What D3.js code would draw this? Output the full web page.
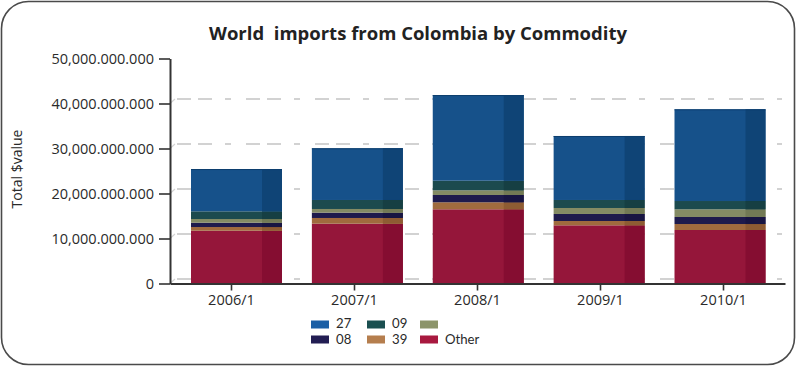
<!DOCTYPE html>
<html>
<head>
<meta charset="utf-8">
<script src="https://cdn.jsdelivr.net/npm/d3@7"></script>
<style>
  html, body { margin: 0; padding: 0; background: #fff; }
  svg { display: block; font-family: "Open Sans", "Noto Sans", sans-serif; }
</style>
</head>
<body>
<svg id="chart" width="796" height="366"></svg>
<script>
// Periods on the x axis
const periods = ["2006/1", "2007/1", "2008/1", "2009/1", "2010/1"];

// Import values per commodity (US$), one array per HS code
const hs27    = [9.40e9, 11.49e9, 19.04e9, 14.22e9, 20.38e9];
const hs09    = [1.71e9, 2.00e9, 2.13e9, 1.78e9, 1.84e9];
const hsBlank = [0.82e9, 0.82e9, 1.04e9, 1.33e9, 1.71e9];
const hs08    = [0.96e9, 1.18e9, 1.62e9, 1.56e9, 1.56e9];
const hs39    = [0.82e9, 1.27e9, 1.56e9, 0.96e9, 1.33e9];
const hsOther = [11.73e9, 13.29e9, 16.49e9, 12.93e9, 11.89e9];

// Y axis ticks
const yTicks = [0, 10e9, 20e9, 30e9, 40e9, 50e9];
const gridTicks = [0, 10e9, 20e9, 30e9, 40e9];

// Series, bottom of the stack first
const series = [
  { id: "other", label: "Other", values: hsOther, face: "#95163A", side: "#850D31", swatch: "#A8193F" },
  { id: "c39",   label: "39",    values: hs39,    face: "#A06B3E", side: "#8E5C33", swatch: "#B57E4E" },
  { id: "c08",   label: "08",    values: hs08,    face: "#1E1A4C", side: "#181542", swatch: "#221D53" },
  { id: "blank", label: "",      values: hsBlank, face: "#848B64", side: "#737A55", swatch: "#8C946A" },
  { id: "c09",   label: "09",    values: hs09,    face: "#1C4A4E", side: "#163F43", swatch: "#1A4F50" },
  { id: "c27",   label: "27",    values: hs27,    face: "#16518A", side: "#0F4476", swatch: "#1B5FA5" }
];
// Legend reading order
const legendOrder = ["c27", "c09", "blank", "c08", "c39", "other"];

const svg = d3.select("#chart");

// Outer frame with rounded corners
svg.append("rect")
  .attr("x", 1.5).attr("y", 1.5)
  .attr("width", 793).attr("height", 363)
  .attr("rx", 27).attr("ry", 27)
  .attr("fill", "#fff")
  .attr("stroke", "#4a4a4a")
  .attr("stroke-width", 1.6);

// Title
svg.append("text")
  .attr("x", 418).attr("y", 39.5)
  .attr("text-anchor", "middle")
  .attr("font-size", 18.5)
  .attr("font-weight", "bold")
  .attr("fill", "#222")
  .style("white-space", "pre")
  .attr("xml:space", "preserve")
  .text("World  imports from Colombia by Commodity");

// Scales
const y = d3.scaleLinear().domain([0, 50e9]).range([283.5, 58.5]);
const xAxisScale = d3.scaleBand().domain(periods).range([170, 785]);
const xBar = d3.scalePoint().domain(periods).range([236.5, 720]);
const barW = 91, sideW = 20, depthX = 5, depthY = -4.5;

// Grid lines drawn on the back wall, shifted by the depth offset
const grid = svg.append("g");
gridTicks.forEach(t => {
  grid.append("line")
    .attr("x1", 170).attr("y1", y(t))
    .attr("x2", 170 + depthX).attr("y2", y(t) + depthY)
    .attr("stroke", "#d4d4d4").attr("stroke-width", 1.2);
  grid.append("line")
    .attr("x1", 177).attr("y1", y(t) + depthY)
    .attr("x2", 782).attr("y2", y(t) + depthY)
    .attr("stroke", "#d2d2d2").attr("stroke-width", 2)
    .attr("stroke-dasharray", "14,7,14,13,6,15");
});

// Stack the series
const rows = periods.map((p, i) => {
  const r = { period: p };
  series.forEach(s => r[s.id] = s.values[i]);
  return r;
});
const stacked = d3.stack().keys(series.map(s => s.id))(rows);

const bars = svg.append("g");
stacked.forEach((layer, li) => {
  const s = series[li];
  const g = bars.append("g");
  layer.forEach(d => {
    const cx = xBar(d.data.period);
    const y0 = y(d[1]), h = y(d[0]) - y(d[1]);
    g.append("rect")
      .attr("x", cx - barW / 2).attr("y", y0)
      .attr("width", barW).attr("height", h)
      .attr("fill", s.face);
    g.append("rect")
      .attr("x", cx + barW / 2 - sideW).attr("y", y0)
      .attr("width", sideW).attr("height", h)
      .attr("fill", s.side);
  });
});

// Thin edge on top of each column
const totals = periods.map((p, i) => d3.sum(series, s => s.values[i]));
bars.selectAll("line.top")
  .data(periods)
  .join("line")
  .attr("x1", p => xBar(p) - barW / 2)
  .attr("x2", p => xBar(p) + barW / 2)
  .attr("y1", (p, i) => y(totals[i]) + 0.5)
  .attr("y2", (p, i) => y(totals[i]) + 0.5)
  .attr("stroke", "#0d3e6e").attr("stroke-width", 1);

// Y axis
const fmt = v => {
  if (v === 0) return "0";
  const s = d3.format(",")(v);
  const i = s.indexOf(",");
  return s.slice(0, i + 1) + s.slice(i + 1).replace(/,/g, ".");
};
const yAxis = svg.append("g")
  .attr("transform", "translate(170,0)")
  .call(d3.axisLeft(y).tickValues(yTicks).tickFormat(fmt).tickSize(11).tickSizeOuter(0).tickPadding(5));
yAxis.select(".domain").attr("stroke", "#333").attr("stroke-width", 2);
yAxis.selectAll(".tick line").attr("stroke", "#333").attr("stroke-width", 1.6);
yAxis.selectAll(".tick text")
  .attr("font-size", 14.5)
  .attr("fill", "#2a2a2a")
  .attr("font-family", "'Open Sans', sans-serif");

// X axis
const xAxis = svg.append("g")
  .attr("transform", `translate(0,${y(0)})`)
  .call(d3.axisBottom(xAxisScale).tickSize(7).tickSizeOuter(0).tickPadding(4));
xAxis.select(".domain").attr("stroke", "#333").attr("stroke-width", 2);
xAxis.selectAll(".tick line").attr("stroke", "#333").attr("stroke-width", 1.6);
xAxis.selectAll(".tick text")
  .attr("font-size", 14.5)
  .attr("fill", "#2a2a2a")
  .attr("font-family", "'Open Sans', sans-serif");

// Y axis title
svg.append("text")
  .attr("transform", "translate(22,169) rotate(-90)")
  .attr("text-anchor", "middle")
  .attr("font-size", 14)
  .attr("fill", "#2a2a2a")
  .text("Total $value");

// Legend, three columns by two rows
const legCols = [311, 367, 420], legRows = [320.5, 335.5];
const legBase = [328.3, 344.3];
const legend = svg.append("g");
legendOrder.forEach((id, k) => {
  const s = series.find(d => d.id === id);
  const row = Math.floor(k / 3);
  const lx = legCols[k % 3], ly = legRows[row];
  legend.append("rect")
    .attr("x", lx).attr("y", ly)
    .attr("width", 18).attr("height", 8)
    .attr("fill", s.swatch);
  legend.append("text")
    .attr("x", lx + 25).attr("y", legBase[row])
    .attr("font-family", "Lato, sans-serif")
    .attr("font-size", 13.2)
    .attr("fill", "#2a2a2a")
    .text(s.label);
});
</script>
</body>
</html>
